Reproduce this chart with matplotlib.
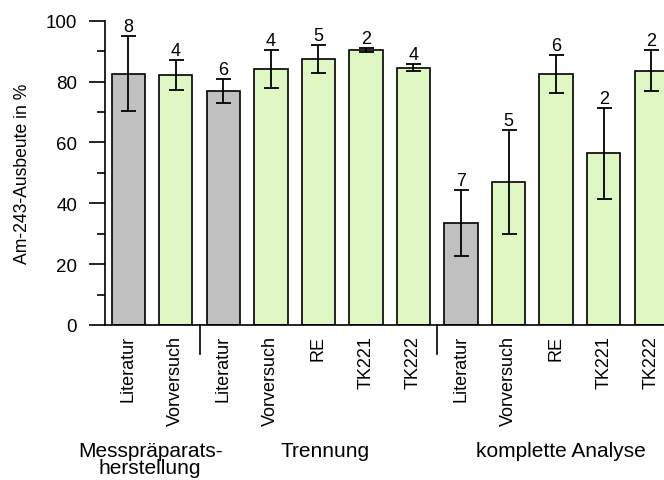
import numpy as np
import matplotlib.pyplot as plt
import matplotlib.transforms as mtransforms

plt.rcParams['font.family'] = ['Liberation Sans', 'DejaVu Sans']

# Daten
labels = ['Literatur', 'Vorversuch', 'Literatur', 'Vorversuch', 'RE', 'TK221', 'TK222',
          'Literatur', 'Vorversuch', 'RE', 'TK221', 'TK222']
ausbeute = [82.6, 82.2, 76.8, 84.2, 87.3, 90.4, 84.6, 33.6, 46.9, 82.4, 56.4, 83.6]
fehler = [12.3, 5.0, 4.0, 6.3, 4.6, 0.6, 1.2, 10.9, 17.1, 6.3, 15.0, 6.8]
anzahl = [8, 4, 6, 4, 5, 2, 4, 7, 5, 6, 2, 2]
literatur = [True, False, True, False, False, False, False, True, False, False, False, False]
gruppen = ['Messpräparats-\nherstellung', 'Trennung', 'komplette Analyse']

grau = '#c0c0c0'
gruen = '#dff7c2'

fig = plt.figure(figsize=(6.64, 4.81), dpi=100)
ax = fig.add_axes([105/664, 155/481, 1 - 105/664, (326 - 21.7)/481])

x = np.arange(len(labels))
farben = [grau if l else gruen for l in literatur]
ax.bar(x, ausbeute, width=0.7, color=farben, edgecolor='black', linewidth=1.2, zorder=2)
ax.errorbar(x, ausbeute, yerr=fehler, fmt='none', ecolor='black', elinewidth=1.3,
            capsize=5.4, capthick=1.3, zorder=3)

# Anzahl der Messungen über den Fehlerbalken
for xi, yi, ei, n in zip(x, ausbeute, fehler, anzahl):
    ax.text(xi, yi + ei + 0.3, str(n), ha='center', va='bottom', fontsize=13)

ax.set_xlim(-0.49, 11.27)
ax.set_ylim(0, 100)
ax.set_yticks(np.arange(0, 101, 20))
ax.set_yticks(np.arange(10, 100, 20), minor=True)
ax.tick_params(axis='y', which='major', length=11.5, width=1.2, labelsize=13.5, pad=8.5)
ax.tick_params(axis='y', which='minor', length=5.8, width=1.2)
ax.set_xticks(x)
ax.set_xticklabels(labels, rotation=90, fontsize=13)
ax.tick_params(axis='x', length=0, pad=7)
ax.set_ylabel('Am-243-Ausbeute in %', fontsize=12.7)
ax.yaxis.set_label_coords(-0.1315, 0.5)

for s in ['top', 'right']:
    ax.spines[s].set_visible(False)
for s in ['left', 'bottom']:
    ax.spines[s].set_linewidth(1.2)

# Trennlinien zwischen den Gruppen
trans = mtransforms.blended_transform_factory(ax.transData, ax.transAxes)
for xs in [1.5, 6.5]:
    ax.plot([xs, xs], [0, -0.095], color='black', lw=1.2, transform=trans, clip_on=False)

# Gruppenbeschriftung
for xg, g in zip([0.46, 4.13, 9.1], gruppen):
    ax.text(xg, -0.38, g, transform=trans, ha='center', va='top', fontsize=15,
            linespacing=0.9)

fig.savefig('out.png', dpi=100)
